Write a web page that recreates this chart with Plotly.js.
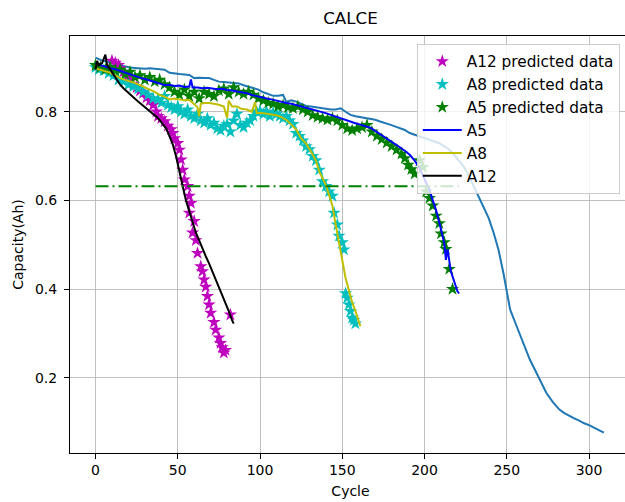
<!DOCTYPE html>
<html>
<head>
<meta charset="utf-8">
<script src="https://cdn.plot.ly/plotly-3.0.1.min.js"></script>
<style>html,body{margin:0;padding:0;overflow:hidden;background:#fff;}#chart{width:640px;height:502px;}</style>
</head>
<body>
<div id="chart"></div>
<script>
// Unlabeled reference capacity curve (default colour)
const refX = [0,3,6,9,12,15,18,21,24,27,30,33,36,39,42,45,48,51,54,57,60,63,66,69,72,75,78,81,84,87,90,93,96,99,102,105,108,111,114,116,119,122,125,128,131,134,137,140,143,146,149,152,155,158,161,164,167,170,173,176,179,182,185,188,191,194,197,200,203,206,209,212,215,218,221,224,227,230,233,236,239,242,245,248,250,252,256,260,264,268,271,274,278,282,285,288,291,294,297,300,303,306,309];
const refY = [0.922,0.917,0.914,0.91,0.907,0.905,0.902,0.9,0.899,0.898,0.897,0.898,0.897,0.896,0.895,0.888,0.886,0.885,0.884,0.883,0.876,0.877,0.876,0.876,0.872,0.868,0.867,0.866,0.865,0.864,0.86,0.857,0.853,0.85,0.844,0.84,0.836,0.836,0.838,0.822,0.826,0.823,0.818,0.813,0.812,0.81,0.808,0.806,0.805,0.805,0.808,0.8,0.793,0.79,0.788,0.786,0.784,0.782,0.778,0.775,0.771,0.767,0.763,0.759,0.752,0.748,0.744,0.74,0.737,0.733,0.729,0.722,0.715,0.703,0.69,0.675,0.655,0.632,0.606,0.585,0.56,0.527,0.488,0.435,0.398,0.354,0.316,0.278,0.241,0.211,0.188,0.166,0.145,0.128,0.12,0.113,0.108,0.103,0.097,0.093,0.087,0.082,0.076];

// A12 predicted data
const a12pX = [10,12,14,15,17,19,21,23,25,27,29,31,33,35,37,38,40,42,44,46,47,48,50,51,52,53,54,56,57,58,57,60,59,61,62,64,65,66,67,68,69,70,72,73,75,76,77,78,79,82];
const a12pY = [0.915,0.91,0.905,0.898,0.89,0.88,0.872,0.862,0.855,0.847,0.842,0.832,0.825,0.815,0.8,0.79,0.785,0.778,0.768,0.76,0.752,0.74,0.729,0.714,0.692,0.669,0.647,0.632,0.61,0.594,0.572,0.553,0.527,0.51,0.481,0.451,0.44,0.421,0.405,0.384,0.365,0.346,0.325,0.308,0.29,0.278,0.268,0.256,0.262,0.342];

// A8 predicted data
const a8pX = [0,2,5,8,11,14,17,20,23,26,29,32,35,38,40,42,44,46,48,50,52,54,56,58,60,62,64,66,68,70,72,74,76,78,80,82,84,86,88,90,92,94,96,98,100,102,104,106,108,110,112,114,116,118,120,122,124,126,128,130,132,134,136,138,140,142,144,145,147,148,150,151,152,153,154,155,156,157,158];
const a8pY = [0.9,0.895,0.893,0.887,0.882,0.872,0.868,0.861,0.857,0.852,0.845,0.838,0.83,0.828,0.82,0.835,0.815,0.81,0.805,0.812,0.8,0.795,0.805,0.79,0.785,0.795,0.78,0.775,0.785,0.77,0.775,0.762,0.758,0.768,0.772,0.755,0.78,0.795,0.77,0.765,0.775,0.78,0.79,0.8,0.802,0.795,0.8,0.79,0.798,0.795,0.79,0.785,0.79,0.78,0.772,0.752,0.745,0.735,0.722,0.715,0.7,0.69,0.669,0.643,0.632,0.62,0.61,0.572,0.545,0.52,0.505,0.489,0.39,0.38,0.365,0.35,0.335,0.33,0.322];

// A5 predicted data
const a5pX = [0,3,6,9,12,15,18,21,24,27,30,33,36,39,42,45,48,51,54,57,60,63,66,69,72,75,78,81,84,87,90,93,96,99,102,105,108,111,114,117,120,123,126,129,132,135,138,141,144,147,150,153,156,159,162,165,168,171,174,177,180,183,186,188,190,192,194,197,199,201,203,205,207,209,210,212,213,215,217];
const a5pY = [0.905,0.9,0.895,0.9,0.893,0.895,0.885,0.89,0.878,0.882,0.872,0.878,0.868,0.872,0.862,0.855,0.845,0.838,0.85,0.835,0.845,0.83,0.845,0.84,0.835,0.848,0.852,0.84,0.855,0.845,0.84,0.845,0.838,0.83,0.825,0.82,0.818,0.812,0.815,0.81,0.808,0.812,0.805,0.8,0.792,0.788,0.785,0.782,0.785,0.78,0.77,0.762,0.758,0.762,0.765,0.77,0.755,0.745,0.738,0.73,0.722,0.714,0.705,0.695,0.68,0.67,0.66,0.69,0.675,0.62,0.605,0.588,0.565,0.548,0.525,0.505,0.49,0.445,0.4];

// A5 measured
const a5X = [0,3,6,9,12,15,18,21,24,27,30,33,36,39,42,45,48,51,54,57,58,59,62,65,68,71,74,77,80,83,86,89,92,95,98,101,104,107,110,113,116,119,122,125,128,131,134,137,140,143,146,149,152,155,158,161,164,167,170,173,176,179,182,185,188,191,194,197,199,201,203,205,207,209,211,212,213,214,216,218,220,221];
const a5Y = [0.91,0.905,0.902,0.898,0.896,0.892,0.888,0.884,0.88,0.877,0.874,0.871,0.868,0.864,0.86,0.861,0.858,0.859,0.856,0.857,0.873,0.855,0.855,0.853,0.854,0.852,0.851,0.852,0.849,0.848,0.846,0.843,0.842,0.838,0.835,0.833,0.83,0.828,0.825,0.822,0.82,0.818,0.815,0.812,0.81,0.807,0.804,0.8,0.797,0.793,0.789,0.785,0.781,0.777,0.774,0.771,0.768,0.764,0.757,0.75,0.743,0.736,0.728,0.72,0.712,0.703,0.69,0.672,0.656,0.64,0.624,0.6,0.578,0.55,0.52,0.503,0.466,0.49,0.44,0.415,0.395,0.39];

// A8 measured
const a8X = [0,3,6,9,12,15,18,21,24,27,30,33,36,39,42,45,48,51,54,57,60,62,63,64,66,69,72,75,78,80,81,83,86,89,92,95,97,98,101,104,107,110,113,116,119,122,125,128,131,134,136,138,140,142,144,146,148,150,152,154,156,158,160,161];
const a8Y = [0.898,0.895,0.892,0.888,0.882,0.876,0.872,0.869,0.865,0.86,0.855,0.85,0.845,0.838,0.834,0.828,0.83,0.828,0.826,0.827,0.816,0.81,0.79,0.818,0.82,0.82,0.818,0.816,0.812,0.786,0.825,0.812,0.812,0.806,0.805,0.8,0.822,0.797,0.797,0.795,0.793,0.792,0.788,0.782,0.771,0.76,0.74,0.728,0.71,0.69,0.665,0.648,0.635,0.612,0.588,0.545,0.5,0.465,0.425,0.395,0.37,0.35,0.325,0.316];

// A12 measured
const a12X = [0,1,2,4,6,7,9,11,13,15,17,19,21,23,25,27,29,31,33,35,37,39,41,43,45,47,49,51,53,55,57,59,61,63,65,67,69,71,73,75,77,79,81,83,84];
const a12Y = [0.895,0.915,0.905,0.91,0.929,0.906,0.895,0.883,0.87,0.861,0.853,0.846,0.838,0.832,0.826,0.82,0.814,0.808,0.802,0.796,0.789,0.781,0.772,0.762,0.745,0.726,0.699,0.662,0.632,0.6,0.575,0.55,0.527,0.51,0.49,0.474,0.458,0.44,0.424,0.405,0.39,0.37,0.35,0.33,0.322];

// End-of-life threshold
const eolX = [0, 221];
const eolY = [0.632, 0.632];

const xTicks = [0, 50, 100, 150, 200, 250, 300];
const yTicks = [0.2, 0.4, 0.6, 0.8];

const FONT = 'DejaVu Sans, sans-serif';

const traces = [
  {x: refX, y: refY, mode: 'lines', line: {color: '#1f77b4', width: 2}, showlegend: false, hoverinfo: 'skip'},
  {x: a12pX, y: a12pY, mode: 'markers', name: 'A12 predicted data', marker: {symbol: 'star', size: 10, color: '#bf00bf'}},
  {x: a8pX, y: a8pY, mode: 'markers', name: 'A8 predicted data', marker: {symbol: 'star', size: 10, color: '#00bfbf'}},
  {x: a5pX, y: a5pY, mode: 'markers', name: 'A5 predicted data', marker: {symbol: 'star', size: 10, color: '#008000'}},
  {x: a5X, y: a5Y, mode: 'lines', name: 'A5', line: {color: '#0000ff', width: 2}},
  {x: a8X, y: a8Y, mode: 'lines', name: 'A8', line: {color: '#bfbf00', width: 2}},
  {x: a12X, y: a12Y, mode: 'lines', name: 'A12', line: {color: '#000000', width: 2}},
  {x: eolX, y: eolY, mode: 'lines', showlegend: false, line: {color: '#008000', width: 2, dash: '13px,4px,2px,4px'}}
];

const layout = {
  width: 640, height: 502,
  margin: {l: 70, r: 9, t: 36, b: 49},
  paper_bgcolor: '#ffffff', plot_bgcolor: '#ffffff',
  font: {family: FONT, size: 14, color: '#000'},
  title: {text: 'CALCE', font: {family: FONT, size: 16.7, color: '#000'}, x: 0.5, xref: 'paper', y: 1, yref: 'container', yanchor: 'top', pad: {t: 12}},
  xaxis: {
    range: [-15.5, 325.5], tickvals: xTicks, ticktext: xTicks.map(String),
    showgrid: true, gridcolor: '#b0b0b0', gridwidth: 0.8, zeroline: false,
    showline: true, mirror: true, linecolor: '#000', linewidth: 1,
    ticks: 'outside', ticklen: 5, tickcolor: '#000', ticklabelstandoff: -1,
    tickfont: {family: FONT, size: 14},
    title: {text: 'Cycle', font: {family: FONT, size: 14}, standoff: 9}
  },
  yaxis: {
    range: [0.030, 0.971], tickvals: yTicks, ticktext: yTicks.map(v => v.toFixed(1)),
    showgrid: true, gridcolor: '#b0b0b0', gridwidth: 0.8, zeroline: false,
    showline: true, mirror: true, linecolor: '#000', linewidth: 1,
    ticks: 'outside', ticklen: 5, tickcolor: '#000', ticklabelstandoff: 4,
    tickfont: {family: FONT, size: 14},
    title: {text: 'Capacity(Ah)', font: {family: FONT, size: 14}, standoff: 8}
  },
  legend: {
    x: 0.98, y: 0.981, xanchor: 'right', yanchor: 'top',
    bgcolor: 'rgba(255,255,255,0.8)', bordercolor: '#cccccc', borderwidth: 1,
    font: {family: FONT, size: 15.3, color: '#000'}, itemwidth: 39, tracegroupgap: 0
  },
  showlegend: true
};

Plotly.newPlot('chart', traces, layout, {staticPlot: true, displayModeBar: false});
</script>
</body>
</html>
